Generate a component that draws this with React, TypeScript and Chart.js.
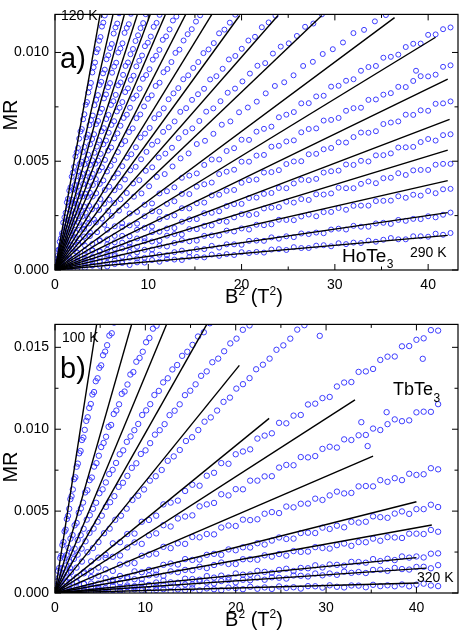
import React, { useEffect, useRef } from "react";
import { Chart, registerables } from "chart.js";

Chart.register(...registerables);

const FONT = "'Liberation Sans', Arial, sans-serif";

// Shared B² sampling (T²) used by the flatter data sets of both panels
const fieldGrid = [0.8,1.6,2.4,3.2,4,4.8,5.6,6.4,7.2,8,8.8,9.6,10.4,11.2,12,12.8,13.6,14.4,15.2,16,16.8,17.6,18.4,19.2,20,20.8,21.6,22.4,23.2,24,24.8,25.6,26.4,27.2,28,28.8,29.6,30.4,31.2,32,32.8,33.6,34.4,35.2,36,36.8,37.6,38.4,39.2,40,40.8,41.6,42.4];

// ===== Panel a) HoTe3, 120 K ... 290 K =====
// fit-line end points [B² (T²), MR × 10⁴]; every line starts at the origin
const hoLineEnds: number[][] = [
  [5.35, 130], [6.88, 130], [8.23, 130], [9.77, 130], [11.3, 130], [13.1, 130],
  [15.5, 130], [18.6, 130], [19.8, 117], [23.9, 117], [28.6, 117], [36.4, 116],
  [40.8, 107], [42.1, 87.7], [42.3, 69.2], [42.1, 55.1], [42.1, 41.1], [42.1, 26.4],
  [42.1, 15.9],
];
// steep data sets (low T): B² values and MR × 10⁴ values
const hoSteepX: number[][] = [
  [.12,.25,.37,.50,.63,.75,.88,1.01,1.14,1.27,1.39,1.53,1.66,1.79,1.92,2.05,2.19,2.32,2.46,2.59,2.73,2.87,3.01,3.15,3.29,3.43,3.57,3.71,3.85,4.0,4.14,4.29,4.43,4.58,4.73,4.88,5.03,5.18,5.33],
  [.16,.32,.48,.64,.80,.97,1.13,1.30,1.46,1.63,1.79,1.96,2.13,2.30,2.47,2.64,2.82,2.99,3.16,3.34,3.52,3.69,3.87,4.05,4.23,4.41,4.60,4.78,4.96,5.15,5.34,5.52,5.71,5.90,6.09,6.29,6.48,6.67,6.87],
  [.19,.38,.57,.77,.96,1.16,1.35,1.55,1.74,1.94,2.14,2.34,2.54,2.74,2.95,3.15,3.36,3.56,3.77,3.98,4.19,4.40,4.61,4.82,5.04,5.25,5.47,5.68,5.90,6.12,6.34,6.56,6.78,7.01,7.23,7.46,7.69,7.91,8.14],
  [.23,.45,.68,.91,1.14,1.37,1.61,1.84,2.07,2.31,2.55,2.79,3.03,3.27,3.51,3.75,4.0,4.24,4.49,4.74,4.99,5.24,5.49,5.74,6.0,6.26,6.51,6.77,7.03,7.30,7.56,7.82,8.09,8.36,8.63,8.90,9.17,9.45,9.72],
  [.26,.52,.79,1.05,1.32,1.59,1.86,2.13,2.40,2.67,2.94,3.22,3.50,3.77,4.05,4.33,4.62,4.90,5.18,5.47,5.76,6.05,6.34,6.63,6.93,7.22,7.52,7.82,8.12,8.42,8.72,9.03,9.33,9.64,9.95,10.27,10.58,10.89,11.21],
  [.30,.61,.92,1.22,1.53,1.84,2.16,2.47,2.78,3.10,3.42,3.74,4.06,4.38,4.71,5.03,5.36,5.69,6.02,6.35,6.69,7.02,7.36,7.70,8.04,8.38,8.73,9.07,9.42,9.77,10.13,10.48,10.84,11.19,11.55,11.91,12.28,12.64,13.01],
  [.36,.72,1.08,1.44,1.81,2.18,2.55,2.92,3.29,3.66,4.04,4.42,4.80,5.19,5.57,5.96,6.35,6.74,7.13,7.53,7.93,8.33,8.73,9.14,9.55,9.96,10.37,10.79,11.21,11.63,12.05,12.48,12.91,13.34,13.78,14.22,14.66,15.11,15.56],
  [.43,.86,1.30,1.74,2.18,2.62,3.07,3.52,3.97,4.42,4.88,5.34,5.81,6.28,6.75,7.22,7.70,8.18,8.67,9.16,9.65,10.15,10.65,11.15,11.66,12.18,12.70,13.22,13.75,14.28,14.82,15.36,15.91,16.46,17.02,17.59,18.16,18.74,19.32],
  [.51,1.02,1.54,2.06,2.59,3.12,3.65,4.19,4.73,5.28,5.83,6.38,6.94,7.50,8.07,8.65,9.23,9.81,10.40,10.99,11.59,12.20,12.82,13.43,14.06,14.69,15.33,15.98,16.63,17.30,17.97,18.64,19.33,20.02,20.73,21.44,22.17,22.90,23.64],
  [.61,1.23,1.86,2.48,3.12,3.75,4.40,5.05,5.70,6.36,7.02,7.69,8.37,9.04,9.73,10.42,11.12,11.83,12.54,13.26,13.99,14.72,15.47,16.21,16.97,17.74,18.51,19.30,20.09,20.89,21.70,22.53,23.36,24.20,25.06,25.93,26.81,27.70,28.61],
  [.74,1.48,2.23,2.98,3.74,4.51,5.29,6.07,6.86,7.66,8.46,9.27,10.09,10.92,11.76,12.60,13.46,14.32,15.20,16.08,16.98,17.88,18.80,19.73,20.67,21.63,22.59,23.57,24.57,25.57,26.60,27.64,28.70,29.78,30.87,31.99,33.13,34.29,35.47],
];
const hoSteepY: number[][] = [
  [3.6,5.2,9.3,13.0,14.5,16.9,21.8,24.2,26.3,31.1,32.7,36.5,38.0,42.9,44.8,47.4,52.2,54.1,56.1,60.4,63.7,64.8,69.3,71.6,76.0,77.2,81.6,83.9,86.0,90.8,93.2,95.4,100.1,101.5,105.4,107.1,111.9,113.7,117.0],
  [1.9,6.8,9.2,11.3,16.1,17.7,21.5,23.0,27.9,29.8,32.4,37.2,39.1,41.1,45.4,48.7,49.8,54.3,56.6,61.0,62.2,66.6,68.9,71.0,75.8,78.2,80.4,85.1,86.5,90.4,92.1,96.9,98.7,102.0,103.9,108.7,111.5,113.3,118.0],
  [3.5,5.0,9.9,11.8,14.4,19.2,21.1,23.1,27.4,30.7,31.8,36.3,38.6,43.0,44.2,48.6,50.9,53.0,57.8,60.2,62.4,67.1,68.5,72.4,74.1,78.9,80.7,84.0,85.9,90.7,93.5,95.3,100.0,101.8,104.2,109.0,111.3,113.0,117.8],
  [3.9,5.4,9.2,12.9,14.3,18.6,20.7,24.8,26.1,30.5,33.9,35.2,39.6,41.4,44.8,48.3,50.4,53.9,56.7,59.6,63.8,65.2,69.4,71.3,75.9,77.6,80.5,84.9,86.2,89.7,93.8,95.4,99.2,101.6,105.3,107.9,111.2,113.5,117.6],
  [2.4,6.9,8.7,12.6,15.8,17.4,21.9,23.3,27.5,29.4,33.8,35.1,38.7,42.6,44.2,48.9,50.3,53.4,57.8,59.5,63.1,66.7,68.4,72.9,74.6,77.2,81.8,83.5,87.4,89.3,93.6,96.2,98.6,102.9,104.5,107.3,111.8,113.6,117.3],
  [3.8,5.6,8.4,12.9,15.3,18.1,20.6,24.7,27.3,29.2,33.6,35.5,39.1,41.8,45.7,47.2,50.6,54.9,56.3,60.5,62.8,66.3,69.9,71.4,74.6,78.8,80.2,83.4,87.9,89.6,92.3,96.7,98.5,101.2,105.8,107.4,110.6,114.7,116.5],
  [2.5,6.8,9.5,11.4,15.9,17.2,21.7,24.6,26.4,29.5,33.8,35.3,39.6,41.2,45.3,47.9,50.5,54.2,57.8,59.3,63.4,65.1,69.8,71.5,75.2,78.7,80.3,84.6,86.1,90.9,92.4,95.6,99.8,101.3,105.5,108.4,110.7,114.2,117.1],
  [3.7,5.5,9.8,11.6,14.9,18.5,20.6,23.8,27.9,29.4,32.6,36.8,38.3,42.5,44.4,47.7,51.6,53.2,56.4,60.9,62.7,65.3,69.8,71.6,74.3,78.5,81.2,83.6,87.7,89.5,92.9,95.6,99.7,101.4,104.3,108.8,110.5,113.7,117.4],
  [2.3,6.6,9.4,12.8,14.5,18.9,21.4,23.2,27.6,30.5,32.3,36.7,38.2,41.6,45.8,47.4,50.9,54.3,57.6,59.2,63.5,65.6,68.3,72.7,74.4,78.2,80.8,83.3,87.6,89.1,92.5,96.8,98.4,101.7,105.5,107.2,111.6,113.8,116.9],
  [3.5,5.3,9.7,11.6,15.4,17.3,21.9,23.6,27.2,30.8,32.5,35.4,39.8,41.3,45.6,47.2,51.7,53.5,56.2,60.6,63.4,65.1,68.5,72.8,74.3,77.6,81.5,83.4,86.7,90.3,93.9,95.1,99.5,102.7,104.2,107.6,111.8,113.3,117.5],
  [2.6,6.5,8.5,12.9,15.6,17.4,20.8,24.9,27.3,29.6,33.7,35.2,38.5,42.8,44.1,47.6,51.3,53.6,57.9,59.4,62.6,66.8,68.3,72.5,74.7,77.4,81.2,84.6,86.3,89.5,93.8,95.7,99.3,101.5,104.6,108.9,110.4,114.3,117.2],
];
// flatter data sets (high T): MR × 10⁴ at fieldGrid
const hoFlat: number[][] = [
  [3.2,4.1,8.0,11.3,12.0,13.7,18.5,20.1,21.5,26.0,26.7,30.0,30.6,35.2,36.2,38.0,42.4,43.4,44.4,48.3,50.8,50.8,54.7,56.0,59.9,59.8,63.6,64.9,65.9,70.2,71.4,72.6,76.6,76.7,79.8,80.1,84.3,84.7,87.0,87.7,91.6,93.3,93.8,97.6,98.0,99.0,102.5,104.0,104.1,108.1,108.3,110.7,111.5],
  [1.3,5.4,5.9,8.8,9.2,13.4,14.1,15.7,19.7,20.5,21.3,24.7,27.0,26.8,30.4,31.6,35.0,34.9,38.3,39.4,40.2,44.1,45.2,46.1,49.8,49.8,52.6,52.9,56.7,57.1,59.1,59.6,63.3,64.8,65.1,68.7,69.0,69.9,73.2,74.4,74.6,78.2,78.4,80.6,81.3,84.2,84.1,86.9,89.1,89.0,89.8,93.4,94.1],
  [2.9,3.4,4.1,7.0,8.9,8.7,11.8,12.7,15.7,15.5,18.5,19.4,20.0,23.4,24.4,25.1,28.4,28.3,30.7,31.0,34.3,34.6,36.4,36.8,40.1,41.3,41.6,44.8,45.0,45.9,48.7,49.9,50.0,53.2,53.4,55.5,56.1,58.7,58.6,61.1,63.2,63.1,63.8,67.1,67.8,68.3,71.4,71.3,73.4,73.2,76.4,76.6,77.5],
  [2.2,1.9,4.4,5.1,5.6,8.5,9.3,9.8,12.6,12.4,14.5,14.6,17.4,17.6,19.1,19.3,22.2,23.3,23.4,26.1,26.3,27.0,29.4,30.3,30.4,33.1,33.3,35.0,35.4,37.7,37.6,39.8,41.5,41.3,41.9,44.8,45.4,45.7,48.5,48.3,50.2,49.9,52.7,52.8,53.6,56.3,56.4,56.6,58.8,60.2,59.5,62.0,62.4],
  [2.0,1.6,3.5,3.4,6.0,5.9,7.2,7.2,9.9,10.7,10.7,13.2,13.1,13.5,15.8,16.5,16.3,18.8,18.8,20.3,20.5,22.5,22.2,24.2,25.7,25.3,25.7,28.3,28.7,28.9,31.4,31.0,32.6,32.2,34.8,34.7,35.2,37.8,37.6,37.6,39.6,40.7,39.9,42.2,42.4,44.5,43.7,45.8,46.0,46.0,48.4,48.8,48.8],
  [1.3,2.0,1.8,3.9,3.7,4.0,5.9,6.4,6.1,8.3,8.1,9.3,9.4,11.1,10.8,12.4,13.7,13.2,13.5,15.7,15.9,15.9,18.1,17.7,19.1,18.6,20.8,20.6,21.0,23.1,23.0,22.9,24.6,25.5,24.7,26.6,26.7,28.5,27.7,29.5,29.6,29.6,31.7,31.8,31.9,33.9,33.2,34.6,34.2,36.3,35.3,37.1,37.3],
  [0.2,0.2,2.1,2.1,2.0,3.8,3.3,4.4,3.8,5.6,5.3,5.6,7.3,7.0,6.8,8.2,8.9,8.1,9.6,9.6,11.1,10.3,11.8,11.8,11.6,13.4,13.5,13.4,15.0,14.4,15.5,15.1,16.8,16.5,17.2,16.9,18.6,19.0,18.6,20.3,19.9,19.9,21.4,21.7,21.2,23.0,22.6,23.5,23.4,24.7,24.2,25.4,26.4],
  [0.1,1.1,0.8,0.9,2.2,1.9,1.6,2.7,3.2,2.3,3.5,3.4,4.6,3.8,5.0,4.8,4.6,6.0,6.0,5.8,7.1,6.5,7.3,6.9,8.2,7.8,8.3,8.0,9.4,9.6,9.2,10.5,10.1,10.1,11.2,11.4,10.9,12.3,11.9,12.6,12.4,13.5,13.0,13.9,14.7,14.1,14.1,15.5,15.5,15.3,16.7,16.2,17.0],
];
const hoStray = [38.7, 91.6];

// ===== Panel b) TbTe3, 100 K ... 320 K =====
const tbLineEnds: number[][] = [
  [5.0, 178], [9.2, 178], [13.4, 178], [16.8, 164], [20.4, 139], [23.7, 106.6],
  [33.2, 117.9], [35.2, 83.6], [40.0, 55.7], [41.7, 41.5], [40.0, 21.6], [41.1, 15.2],
  [40.2, 6.1],
];
const tbSteepX: number[][] = [
  [.11,.23,.34,.46,.58,.69,.82,.94,1.06,1.18,1.31,1.44,1.57,1.70,1.83,1.97,2.11,2.25,2.39,2.53,2.68,2.83,2.98,3.14,3.29,3.46,3.62,3.79,3.96,4.14,4.32,4.51,4.71,4.91,5.11,5.32,5.55,5.77,6.02,6.28,6.54],
  [.21,.42,.63,.84,1.06,1.27,1.49,1.71,1.94,2.17,2.39,2.63,2.86,3.10,3.34,3.58,3.83,4.08,4.33,4.59,4.85,5.11,5.38,5.65,5.93,6.21,6.50,6.79,7.09,7.39,7.70,8.02,8.34,8.67,9.0,9.36,9.71,10.08,10.45,10.84,11.24],
  [.30,.61,.92,1.23,1.54,1.86,2.18,2.51,2.84,3.17,3.51,3.85,4.20,4.55,4.91,5.27,5.63,6.0,6.38,6.76,7.16,7.55,7.95,8.36,8.78,9.21,9.65,10.09,10.54,11.0,11.49,11.97,12.48,12.99,13.52,14.07,14.64,15.22,15.83,16.47,17.14],
  [.41,.82,1.24,1.66,2.09,2.51,2.95,3.38,3.82,4.27,4.72,5.18,5.63,6.10,6.57,7.04,7.52,8.01,8.50,9.0,9.50,10.02,10.53,11.06,11.59,12.13,12.68,13.24,13.80,14.38,14.97,15.56,16.17,16.79,17.41,18.06,18.72,19.40,20.09,20.79,21.53],
  [.59,1.18,1.78,2.38,2.98,3.59,4.20,4.81,5.43,6.05,6.67,7.30,7.93,8.57,9.21,9.85,10.50,11.15,11.81,12.48,13.14,13.81,14.49,15.17,15.86,16.55,17.24,17.94,18.65,19.36,20.07,20.80,21.53,22.26,23.01,23.75,24.51,25.27,26.04,26.81,27.60],
];
const tbSteepY: number[][] = [
  [5.2,7.1,13.5,15.2,21.4,22.8,29.3,31.1,37.6,38.7,45.2,47.1,51.4,57.3,59.1,63.2,69.5,70.6,77.1,79.0,85.3,86.7,93.4,94.9,99.6,105.1,107.3,113.0,115.4,121.2,122.7,129.3,131.1,137.5,139.0,145.2,147.4,151.3,157.2,158.6,165.1],
  [3.1,9.4,12.6,15.3,21.5,23.1,27.6,33.2,35.4,41.3,42.8,49.1,51.6,55.2,61.4,62.7,68.9,70.5,77.2,79.3,83.8,89.1,91.6,95.4,101.5,102.6,109.3,111.4,115.2,121.6,123.0,127.3,133.4,134.9,141.2,143.5,147.3,153.1,155.7,161.4,163.2],
  [4.9,7.2,11.4,16.8,19.3,24.6,27.1,32.4,35.3,39.2,44.8,47.5,51.4,55.1,60.9,63.3,67.5,72.6,75.2,79.4,84.7,87.1,92.3,95.6,99.4,103.2,108.7,111.5,115.3,120.9,123.4,128.6,131.1,136.5,139.2,144.8,147.3,151.5,156.6,159.2,164.7],
  [3.3,8.9,12.5,15.2,20.8,23.4,27.1,31.6,36.7,39.3,43.5,47.2,52.6,55.4,59.1,64.8,67.3,71.5,76.4,79.2,84.9,87.1,91.5,96.7,99.4,103.1,108.6,111.3,115.2,120.8,123.5,127.4,132.6,135.3,140.9,143.1,147.6,152.4,155.3,160.7,163.4],
  [4.6,7.1,12.8,15.5,19.2,24.9,27.4,31.1,36.5,39.3,44.7,47.2,51.5,56.8,59.4,63.2,68.6,71.3,75.1,80.7,83.4,87.3,92.8,95.1,99.5,104.6,107.2,111.4,116.7,119.3,124.8,127.5,131.2,136.6,139.4,143.1,148.5,151.2,155.3,160.8,163.5],
];
const tbFlat: number[][] = [
  [4.2,9.2,9.7,12.0,19.3,21.6,23.3,30.3,31.0,36.0,36.3,43.5,44.6,47.2,54.1,55.2,56.4,62.3,66.1,65.5,71.6,73.4,79.3,78.9,84.7,86.4,87.7,94.3,96.1,97.5,103.9,103.6,108.3,108.7,115.1,115.6,119.0,119.7,126.1,128.5,128.8,135.0,135.3,136.8,142.3,144.3,144.4,150.6,150.8,154.6,155.5,160.5,160.2],
  [2.3,6.5,6.6,12.8,13.5,15.5,21.4,22.1,22.9,27.8,30.9,30.0,35.2,36.4,41.4,40.6,45.5,46.7,47.4,52.9,54.1,55.0,60.3,59.6,63.4,63.3,68.6,68.6,71.2,71.3,76.6,78.2,78.0,83.0,82.8,83.6,88.0,89.3,88.8,93.8,93.4,96.3,96.5,100.4,99.5,103.1,106.0,104.9,105.4,110.3,110.7,110.6,115.3],
  [0.5,4.4,6.7,5.7,9.7,10.5,14.4,13.5,17.3,18.0,18.3,22.7,23.5,24.0,28.2,27.4,30.3,30.0,34.2,34.0,36.0,35.8,40.0,41.2,40.9,44.8,44.5,45.0,48.4,49.4,48.8,52.8,52.3,54.5,54.6,57.6,56.8,59.6,61.9,60.8,61.1,65.1,65.3,65.1,68.9,67.9,70.1,68.9,72.8,72.1,72.5,76.2,75.5],
  [1.9,2.1,2.0,5.5,5.8,5.8,9.1,8.1,10.4,9.8,13.2,12.7,14.1,13.8,17.2,18.0,17.4,20.7,20.2,20.4,23.3,23.9,23.3,26.6,26.1,27.9,27.8,30.4,29.6,32.0,33.9,33.0,33.2,36.6,36.8,36.6,39.9,39.1,41.1,40.1,43.5,43.0,43.5,46.8,46.3,45.9,48.5,49.8,48.3,51.2,51.2,53.9,52.5],
  [1.2,0.6,3.4,2.8,3.9,3.5,6.3,6.8,6.3,8.9,8.4,8.5,10.8,11.2,10.5,13.2,12.7,14.1,13.9,16.0,15.2,17.1,18.6,17.7,17.7,20.6,20.6,20.3,23.0,22.2,23.8,22.8,25.6,25.1,25.3,28.0,27.5,27.1,29.2,30.2,28.8,31.1,31.0,33.2,31.9,34.1,33.9,33.6,36.2,36.2,36.0,38.5,37.4],
  [0.2,1.9,1.1,0.9,2.8,2.9,2.0,4.3,3.5,4.6,4.2,5.8,4.9,6.4,7.5,6.5,6.3,8.7,8.5,8.1,10.3,9.4,10.6,9.5,11.9,11.2,11.3,13.5,12.9,12.3,14.1,14.8,13.4,15.3,15.1,16.9,15.6,17.4,17.2,16.7,19.0,18.9,18.5,20.7,19.5,20.9,20.1,22.3,21.6,22.3,21.7,24.0,24.2],
  [0.1,0.8,0.4,1.7,0.8,2.1,3.0,1.9,1.7,3.7,3.5,3.0,4.9,3.9,4.9,3.9,5.9,5.2,5.2,7.1,6.4,5.8,7.3,7.9,6.5,8.1,7.8,9.4,8.1,9.6,9.3,8.8,10.7,10.5,10.1,11.9,10.8,11.9,11.1,13.0,12.3,12.8,12.2,14.1,14.2,13.5,15.3,14.6,14.3,15.9,16.0,15.1,17.0],
  [0.8,0.4,0.1,1.4,0.4,1.1,0.1,1.6,0.9,0.7,2.2,1.5,0.8,1.9,2.3,0.8,2.2,1.7,2.9,1.6,2.8,2.3,1.7,3.3,2.9,2.3,3.8,2.6,3.4,2.5,4.0,3.1,3.5,2.7,4.2,4.1,3.3,4.7,3.8,3.4,4.6,4.5,3.5,5.0,4.2,4.7,4.1,5.2,4.1,5.1,5.7,4.6,4.2],
];
const tbStray = [29.3, 157.0, 40.7, 143.0, 33.9, 104.3, 36.7, 110.4, 34.6, 89.7];

const xMajor = [0, 10, 20, 30, 40];
const xMinor = [5, 15, 25, 35];

type Label = { text: string; sub?: string; x: number; y: number; size: number; subSize?: number; subDy?: number };

type PanelCfg = {
  height: number;
  padTop: number;
  xAxisH: number;
  xMax: number;
  yMax: number;
  yMajor: number[];
  yMinor: number[];
  lineEnds: number[][];
  steepX: number[][];
  steepY: number[][];
  flat: number[][];
  stray: number[];
  labels: Label[];
  yTitleY: number;
  pointR: number;
};

const panelA: PanelCfg = {
  height: 310,
  padTop: 2,
  xAxisH: 40,
  xMax: 43.2,
  yMax: 0.01175,
  yMajor: [0, 0.005, 0.01],
  yMinor: [0.0025, 0.0075],
  lineEnds: hoLineEnds,
  steepX: hoSteepX,
  steepY: hoSteepY,
  flat: hoFlat,
  stray: hoStray,
  yTitleY: 115,
  pointR: 2.5,
  labels: [
    { text: "a)", x: 60, y: 68, size: 29 },
    { text: "120 K", x: 61, y: 20, size: 14 },
    { text: "290 K", x: 410, y: 257, size: 14 },
    { text: "HoTe", sub: "3", x: 342, y: 262, size: 19, subSize: 12, subDy: 6 },
  ],
};

const panelB: PanelCfg = {
  height: 325,
  padTop: 14,
  xAxisH: 325 - 283,
  xMax: 44.6,
  yMax: 0.0164,
  yMajor: [0, 0.005, 0.01, 0.015],
  yMinor: [0.0025, 0.0075, 0.0125],
  lineEnds: tbLineEnds,
  steepX: tbSteepX,
  steepY: tbSteepY,
  flat: tbFlat,
  stray: tbStray,
  yTitleY: 157,
  pointR: 2.7,
  labels: [
    { text: "b)", x: 60, y: 378, size: 29 },
    { text: "100 K", x: 62, y: 342, size: 14 },
    { text: "320 K", x: 417, y: 582, size: 14 },
    { text: "TbTe", sub: "3", x: 393, y: 395, size: 18, subSize: 12, subDy: 7 },
  ],
};

function Panel({ cfg, offsetY }: { cfg: PanelCfg; offsetY: number }) {
  const ref = useRef<HTMLCanvasElement>(null);
  useEffect(() => {
    const datasets: any[] = [];
    cfg.lineEnds.forEach((e) => {
      datasets.push({
        data: [{ x: 0, y: 0 }, { x: e[0], y: e[1] * 1e-4 }],
        showLine: true,
        borderColor: "#000",
        borderWidth: 1.4,
        pointRadius: 0,
      });
    });
    const pointStyle = {
      showLine: false,
      pointRadius: cfg.pointR,
      pointBorderWidth: 1,
      pointBorderColor: "#3c3cff",
      pointBackgroundColor: "rgba(0,0,0,0)",
    };
    cfg.steepX.forEach((xs, i) => {
      const ys = cfg.steepY[i];
      datasets.push({ ...pointStyle, data: xs.map((x, j) => ({ x, y: ys[j] * 1e-4 })) });
    });
    cfg.flat.forEach((ys) => {
      datasets.push({ ...pointStyle, data: ys.map((y, j) => ({ x: fieldGrid[j], y: y * 1e-4 })) });
    });
    const stray: { x: number; y: number }[] = [];
    for (let i = 0; i < cfg.stray.length; i += 2) stray.push({ x: cfg.stray[i], y: cfg.stray[i + 1] * 1e-4 });
    datasets.push({ ...pointStyle, data: stray });

    const deco = {
      id: "deco",
      afterDraw(chart: any) {
        const ctx = chart.ctx;
        const a = chart.chartArea;
        const xs = chart.scales.x;
        const ys = chart.scales.y;
        ctx.save();
        ctx.strokeStyle = "#000";
        ctx.lineWidth = 1.2;
        ctx.strokeRect(a.left, a.top, a.right - a.left, a.bottom - a.top);
        ctx.lineWidth = 1;
        const tick = (vals: number[], len: number) => {
          vals.forEach((v) => {
            const px = xs.getPixelForValue(v);
            ctx.beginPath();
            ctx.moveTo(px, a.bottom);
            ctx.lineTo(px, a.bottom - len);
            ctx.moveTo(px, a.top);
            ctx.lineTo(px, a.top + len);
            ctx.stroke();
          });
        };
        const ytick = (vals: number[], len: number) => {
          vals.forEach((v) => {
            const py = ys.getPixelForValue(v);
            ctx.beginPath();
            ctx.moveTo(a.left, py);
            ctx.lineTo(a.left + len, py);
            ctx.moveTo(a.right, py);
            ctx.lineTo(a.right - len, py);
            ctx.stroke();
          });
        };
        tick(xMajor, 6);
        tick(xMinor, 3.5);
        ytick(cfg.yMajor, 6);
        ytick(cfg.yMinor, 3.5);

        ctx.fillStyle = "#000";
        ctx.textBaseline = "alphabetic";
        ctx.textAlign = "left";
        cfg.labels.forEach((l) => {
          const y = l.y - offsetY;
          ctx.font = `${l.size}px ${FONT}`;
          ctx.fillText(l.text, l.x, y);
          if (l.sub) {
            const w = ctx.measureText(l.text).width;
            ctx.font = `${l.subSize}px ${FONT}`;
            ctx.fillText(l.sub, l.x + w + 0.5, y + (l.subDy || 0));
          }
        });
        // y title
        ctx.save();
        ctx.translate(17, cfg.yTitleY);
        ctx.rotate(-Math.PI / 2);
        ctx.font = `20px ${FONT}`;
        ctx.textAlign = "center";
        ctx.fillText("MR", 0, 0);
        ctx.restore();
        // x title  B² (T²)
        const by = a.bottom + 33;
        const big = `20px ${FONT}`;
        const small = `12px ${FONT}`;
        const parts: [string, boolean][] = [["B", false], ["2", true], [" (T", false], ["2", true], [")", false]];
        let total = 0;
        parts.forEach(([t, s]) => {
          ctx.font = s ? small : big;
          total += ctx.measureText(t).width;
        });
        let cx = 254 - total / 2;
        parts.forEach(([t, s]) => {
          ctx.font = s ? small : big;
          ctx.fillText(t, cx, s ? by - 8 : by);
          cx += ctx.measureText(t).width;
        });
        ctx.restore();
      },
    };

    const tickFont = { family: FONT, size: 14 };
    const chart = new Chart(ref.current as HTMLCanvasElement, {
      type: "scatter",
      data: { datasets },
      options: {
        animation: false,
        responsive: false,
        maintainAspectRatio: false,
        events: [],
        layout: { padding: { top: cfg.padTop, right: 5, left: 0, bottom: 0 } },
        plugins: { legend: { display: false }, tooltip: { enabled: false } },
        scales: {
          x: {
            type: "linear",
            min: 0,
            max: cfg.xMax,
            grid: { display: false, drawTicks: false },
            border: { display: false },
            ticks: {
              stepSize: 10,
              includeBounds: false,
              padding: 7,
              color: "#000",
              font: tickFont,
              maxRotation: 0,
              callback: (v: any) => String(v),
            },
            afterFit: (s: any) => {
              s.height = cfg.xAxisH;
            },
          },
          y: {
            type: "linear",
            min: 0,
            max: cfg.yMax,
            grid: { display: false, drawTicks: false },
            border: { display: false },
            ticks: {
              stepSize: 0.005,
              includeBounds: false,
              padding: 6,
              color: "#000",
              font: tickFont,
              callback: (v: any) => Number(v).toFixed(3),
            },
            afterFit: (s: any) => {
              s.width = 55;
            },
          },
        },
      } as any,
      plugins: [deco],
    });
    return () => chart.destroy();
  }, [cfg, offsetY]);
  return (
    <canvas
      ref={ref}
      width={463}
      height={cfg.height}
      style={{ display: "block", width: 463, height: cfg.height }}
    />
  );
}

export default function App() {
  return (
    <div style={{ position: "absolute", left: 0, top: 0, width: 463, height: 635, background: "#fff" }}>
      <Panel cfg={panelA} offsetY={0} />
      <Panel cfg={panelB} offsetY={310} />
    </div>
  );
}
